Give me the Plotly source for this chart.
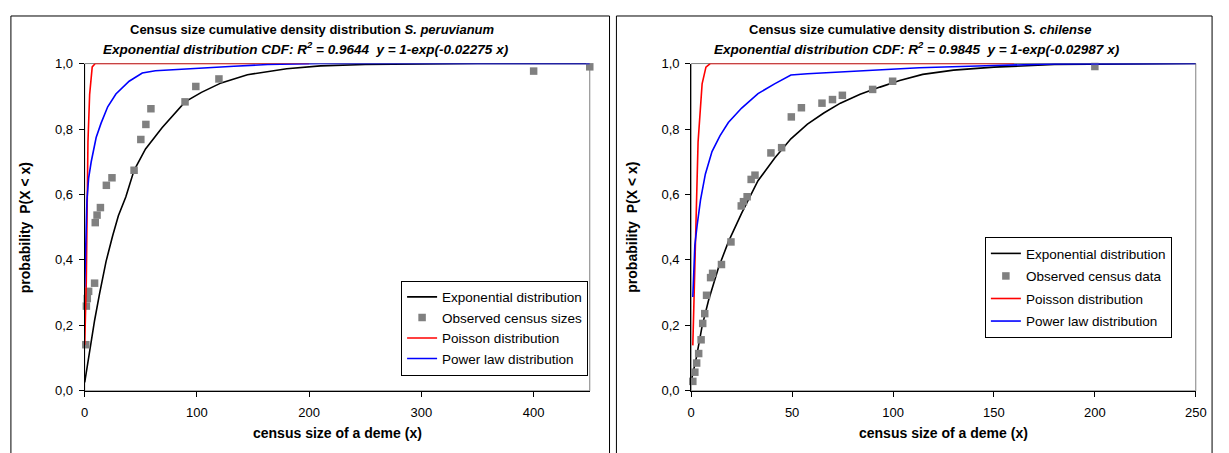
import plotly.graph_objects as go

# ---------------- data: S. peruvianum (left) ----------------
left_obs_x = [1, 1.5, 2.3, 3.5, 8.8, 9.4, 11, 14, 19.3, 24.3, 44, 50, 54.5, 59, 89.4, 99, 119.6, 400, 450]
left_obs_y = [0.141, 0.259, 0.282, 0.304, 0.329, 0.514, 0.537, 0.560, 0.628, 0.651, 0.674, 0.768, 0.814,
              0.862, 0.883, 0.930, 0.953, 0.977, 0.990]

left_exp_x = [0, 1.5, 2.9, 5.5, 8.8, 13.2, 19, 24.9, 30, 36.6, 44, 54.2, 68.9, 89.4, 104, 121.6, 145, 180, 210,
              250, 300, 350, 450]
left_exp_y = [0.026, 0.06, 0.095, 0.145, 0.215, 0.296, 0.395, 0.474, 0.535, 0.592, 0.674, 0.739, 0.804, 0.883,
              0.912, 0.941, 0.966, 0.984, 0.993, 0.997, 0.999, 1.0, 1.0]

left_poi_x = [0, 1.4, 2.9, 4.4, 6.7, 9.4, 200]
left_poi_y = [0.14, 0.33, 0.76, 0.906, 0.99, 1.0, 1.0]

left_pow_x = [0, 1, 2, 3.5, 5.8, 10.2, 14.6, 20.5, 27.8, 39.6, 51.3, 63, 98, 133, 163, 210, 450]
left_pow_y = [0.316, 0.45, 0.582, 0.65, 0.700, 0.774, 0.818, 0.868, 0.907, 0.946, 0.971, 0.978, 0.986, 0.992,
              0.997, 1.0, 1.0]

# ---------------- data: S. chilense (right) ----------------
right_obs_x = [0.8, 1.8, 2.7, 3.7, 4.9, 5.7, 6.7, 7.6, 9.6, 10.6, 15, 19.7, 24.8, 25.9, 27.7, 29.7, 31.6, 39.5,
               44.8, 49.6, 54.6, 64.8, 70, 74.9, 89.9, 99.8, 200]
right_obs_y = [0.029, 0.057, 0.085, 0.114, 0.156, 0.206, 0.236, 0.292, 0.346, 0.359, 0.386, 0.455, 0.565, 0.578,
               0.593, 0.646, 0.659, 0.727, 0.743, 0.837, 0.865, 0.879, 0.890, 0.903, 0.921, 0.946, 0.991]

right_exp_x = [0, 2.5, 5.4, 8.6, 13.5, 18.4, 25, 33.1, 41.3, 49.4, 57.6, 65.7, 73.9, 83.7, 93.5, 103.3, 114.7,
               130, 150, 180, 250]
right_exp_y = [0.03, 0.10, 0.198, 0.277, 0.376, 0.455, 0.543, 0.642, 0.711, 0.770, 0.815, 0.849, 0.879, 0.906,
               0.928, 0.948, 0.967, 0.980, 0.989, 0.997, 1.0]

right_poi_x = [0.8, 2.1, 3.4, 5.4, 7.3, 9.4, 160]
right_poi_y = [0.139, 0.464, 0.76, 0.938, 0.989, 1.0, 1.0]

right_pow_x = [0.8, 1.8, 2.9, 4.6, 7, 10.3, 14.3, 18.4, 25, 33.1, 41.3, 49.4, 57.6, 82, 113, 150, 180, 250]
right_pow_y = [0.287, 0.445, 0.504, 0.583, 0.662, 0.731, 0.780, 0.820, 0.864, 0.908, 0.938, 0.965, 0.969,
               0.977, 0.987, 0.994, 0.999, 1.0]

y_ticks = [0, 0.2, 0.4, 0.6, 0.8, 1.0]
y_ticklabels = ["0,0", "0,2", "0,4", "0,6", "0,8", "1,0"]
left_xticks = [0, 100, 200, 300, 400]
right_xticks = [0, 50, 100, 150, 200, 250]

FONT = "Liberation Sans, Arial, sans-serif"
W, H = 1229, 453

def px_x(v):
    return v / W

def px_y(v):
    return (H - v) / H

fig = go.Figure()

def add_panel(xa, ya, legend, tag, exp_x, exp_y, obs_x, obs_y, poi_x, poi_y, pow_x, pow_y, obs_name):
    fig.add_trace(go.Scatter(x=exp_x, y=exp_y, mode="lines", name="Exponential distribution",
                             line=dict(color="black", width=1.6), xaxis=xa, yaxis=ya, legend=legend,
                             legendgroup=tag + "a"))
    fig.add_trace(go.Scatter(x=obs_x, y=obs_y, mode="markers", name=obs_name,
                             marker=dict(symbol="square", size=7.5, color="#808080"),
                             cliponaxis=False, xaxis=xa, yaxis=ya, legend=legend, legendgroup=tag + "b"))
    fig.add_trace(go.Scatter(x=poi_x, y=poi_y, mode="lines", name="Poisson distribution",
                             line=dict(color="#FF0000", width=1.6), xaxis=xa, yaxis=ya, legend=legend,
                             legendgroup=tag + "c"))
    fig.add_trace(go.Scatter(x=pow_x, y=pow_y, mode="lines", name="Power law distribution",
                             line=dict(color="#0000FF", width=1.6), xaxis=xa, yaxis=ya, legend=legend,
                             legendgroup=tag + "d"))

add_panel("x", "y", "legend", "L", left_exp_x, left_exp_y, left_obs_x, left_obs_y,
          left_poi_x, left_poi_y, left_pow_x, left_pow_y, "Observed census sizes")
add_panel("x2", "y2", "legend2", "R", right_exp_x, right_exp_y, right_obs_x, right_obs_y,
          right_poi_x, right_poi_y, right_pow_x, right_pow_y, "Observed census data")

y0p, y1p = px_y(397), px_y(58.5)
common_axis = dict(showline=True, linecolor="black", linewidth=1, ticks="outside", ticklen=5,
                   tickcolor="black", showgrid=False, zeroline=False,
                   tickfont=dict(family=FONT, size=13, color="black"))

fig.update_layout(
    width=W, height=H,
    margin=dict(l=0, r=0, t=0, b=0),
    paper_bgcolor="white", plot_bgcolor="white",
    font=dict(family=FONT, size=13, color="black"),
    xaxis=dict(domain=[px_x(81.7), px_x(593)], range=[0, 450], tickvals=left_xticks, anchor="y",
               ticklabelstandoff=5, **common_axis),
    yaxis=dict(domain=[y0p, y1p], range=[0, 1], tickvals=y_ticks, ticktext=y_ticklabels, anchor="x",
               ticklabelstandoff=3, **common_axis),
    xaxis2=dict(domain=[px_x(695.7), px_x(1206.5)], range=[0, 250], tickvals=right_xticks, anchor="y2",
                ticklabelstandoff=5, **common_axis),
    yaxis2=dict(domain=[y0p, y1p], range=[0, 1], tickvals=y_ticks, ticktext=y_ticklabels, anchor="x2",
                ticklabelstandoff=3, **common_axis),
    legend=dict(x=px_x(402), y=px_y(283), xanchor="left", yanchor="top", bgcolor="white",
                bordercolor="black", borderwidth=1, font=dict(family=FONT, size=13.5, color="black"),
                tracegroupgap=0, itemwidth=30),
    legend2=dict(x=px_x(993), y=px_y(238), xanchor="left", yanchor="top", bgcolor="white",
                 bordercolor="black", borderwidth=1, font=dict(family=FONT, size=13.5, color="black"),
                 tracegroupgap=2, itemwidth=30),
    showlegend=True,
)

shapes = []
# panel frames
for (l, r) in [(7, 613), (620, 1223)]:
    shapes.append(dict(type="rect", xref="paper", yref="paper", x0=px_x(l), x1=px_x(r),
                       y0=px_y(470), y1=px_y(9.3), line=dict(color="black", width=1), layer="below"))
# plot-area borders (gray)
shapes.append(dict(type="rect", xref="x domain", yref="y domain", x0=0, x1=1, y0=0, y1=1,
                   line=dict(color="#808080", width=1), layer="below"))
shapes.append(dict(type="rect", xref="x2 domain", yref="y2 domain", x0=0, x1=1, y0=0, y1=1,
                   line=dict(color="#808080", width=1), layer="below"))
fig.update_layout(shapes=shapes)

ann = []
titles = [
    (312, 306, "Census size cumulative density distribution <i>S. peruvianum</i>",
     "<i>Exponential distribution CDF: R<sup>2</sup> = 0.9644&nbsp; y = 1-exp(-0.02275 x)</i>"),
    (927, 924, "Census size cumulative density distribution <i>S. chilense</i>",
     "<i>Exponential distribution CDF: R<sup>2</sup> = 0.9845&nbsp; y = 1-exp(-0.02987 x)</i>"),
]
for cx1, cx2, t1, t2 in titles:
    ann.append(dict(x=px_x(cx1), y=px_y(23), xref="paper", yref="paper", text="<b>" + t1 + "</b>",
                    showarrow=False, xanchor="center", yanchor="middle",
                    font=dict(family=FONT, size=13, color="black")))
    ann.append(dict(x=px_x(cx2), y=px_y(42), xref="paper", yref="paper", text="<b>" + t2 + "</b>",
                    showarrow=False, xanchor="center", yanchor="middle",
                    font=dict(family=FONT, size=13.5, color="black")))
for cx in [(81.7 + 593) / 2, (695.7 + 1206.5) / 2]:
    ann.append(dict(x=px_x(cx), y=px_y(441), xref="paper", yref="paper",
                    text="<b>census size of a deme (x)</b>", showarrow=False,
                    xanchor="center", yanchor="middle", font=dict(family=FONT, size=14, color="black")))
for cx in [22, 636]:
    ann.append(dict(x=px_x(cx), y=px_y(228), xref="paper", yref="paper",
                    text="<b>probability&nbsp; P(X &lt; x)</b>", showarrow=False, textangle=-90,
                    xanchor="center", yanchor="middle", font=dict(family=FONT, size=14, color="black")))
fig.update_layout(annotations=ann)

fig.write_html("out.html", config={"displayModeBar": False},
               post_script="document.body.style.margin='0';document.body.style.overflow='hidden';")
